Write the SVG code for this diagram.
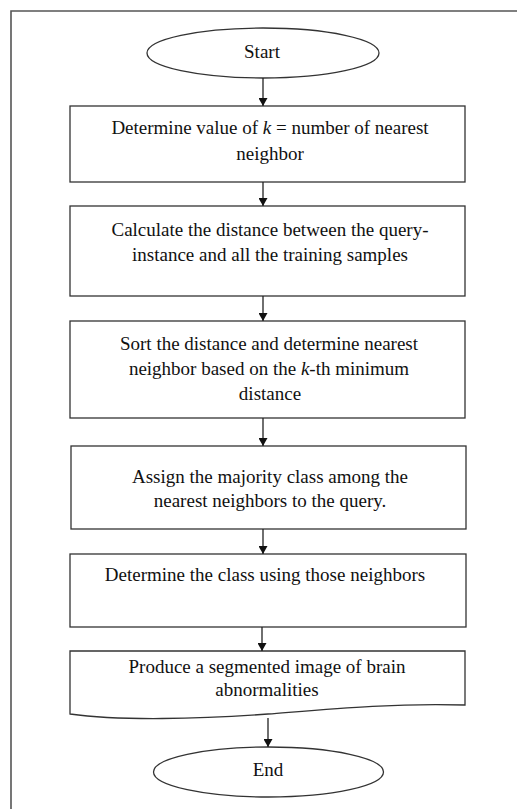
<svg xmlns="http://www.w3.org/2000/svg" width="517" height="809" viewBox="0 0 517 809">
<defs>
<marker id="ah" markerWidth="8" markerHeight="9" refX="8" refY="4.5" orient="auto" markerUnits="userSpaceOnUse">
<path d="M0,0 L8,4.5 L0,9 Z" fill="#111"/>
</marker>
<style>
.shape{fill:#fff;stroke:#333;stroke-width:1.3}
.t{font-family:"Liberation Serif","Times New Roman",serif;font-size:19px;fill:#111;text-anchor:middle}
.c{stroke:#222;stroke-width:1.3;fill:none;marker-end:url(#ah)}
.frame{stroke:#555;stroke-width:1.6;fill:none}
</style>
</defs>
<rect width="517" height="809" fill="#fff"/>
<path class="frame" d="M11,809 V11 H517"/>
<g id="start">
<ellipse class="shape" cx="263" cy="53" rx="116" ry="25"/>
<text class="t" x="262" y="58">Start</text>
</g>
<g id="step1">
<rect class="shape" x="70" y="106" width="395" height="76"/>
<text class="t" x="270" y="134">Determine value of <tspan font-style="italic">k</tspan> = number of nearest</text>
<text class="t" x="270" y="160">neighbor</text>
</g>
<g id="step2">
<rect class="shape" x="70" y="206" width="395" height="90"/>
<text class="t" x="270" y="236">Calculate the distance between the query-</text>
<text class="t" x="270" y="261">instance and all the training samples</text>
</g>
<g id="step3">
<rect class="shape" x="70" y="321" width="395" height="97"/>
<text class="t" x="269" y="350">Sort the distance and determine nearest</text>
<text class="t" x="269" y="375">neighbor based on the <tspan font-style="italic">k</tspan>-th minimum</text>
<text class="t" x="270" y="400">distance</text>
</g>
<g id="step4">
<rect class="shape" x="71" y="446" width="395" height="83"/>
<text class="t" x="270" y="483">Assign the majority class among the</text>
<text class="t" x="270" y="507">nearest neighbors to the query.</text>
</g>
<g id="step5">
<rect class="shape" x="70" y="554" width="396" height="73"/>
<text class="t" x="265" y="581">Determine the class using those neighbors</text>
</g>
<g id="step6">
<path class="shape" d="M70,651 H465 V705 C390,703 330,709 268,714 C200,719 120,721 70,714 Z"/>
<text class="t" x="267" y="673">Produce a segmented image of brain</text>
<text class="t" x="267" y="696">abnormalities</text>
</g>
<g id="end">
<ellipse class="shape" cx="268.5" cy="772" rx="115" ry="25"/>
<text class="t" x="268" y="776">End</text>
</g>
<g id="connectors">
<line class="c" x1="263" y1="78" x2="263" y2="106"/>
<line class="c" x1="263" y1="182" x2="263" y2="206"/>
<line class="c" x1="263" y1="296" x2="263" y2="321"/>
<line class="c" x1="263" y1="418" x2="263" y2="446"/>
<line class="c" x1="263" y1="529" x2="263" y2="554"/>
<line class="c" x1="262" y1="627" x2="262" y2="651"/>
<line class="c" x1="268" y1="718" x2="268" y2="747"/>
</g>
</svg>
